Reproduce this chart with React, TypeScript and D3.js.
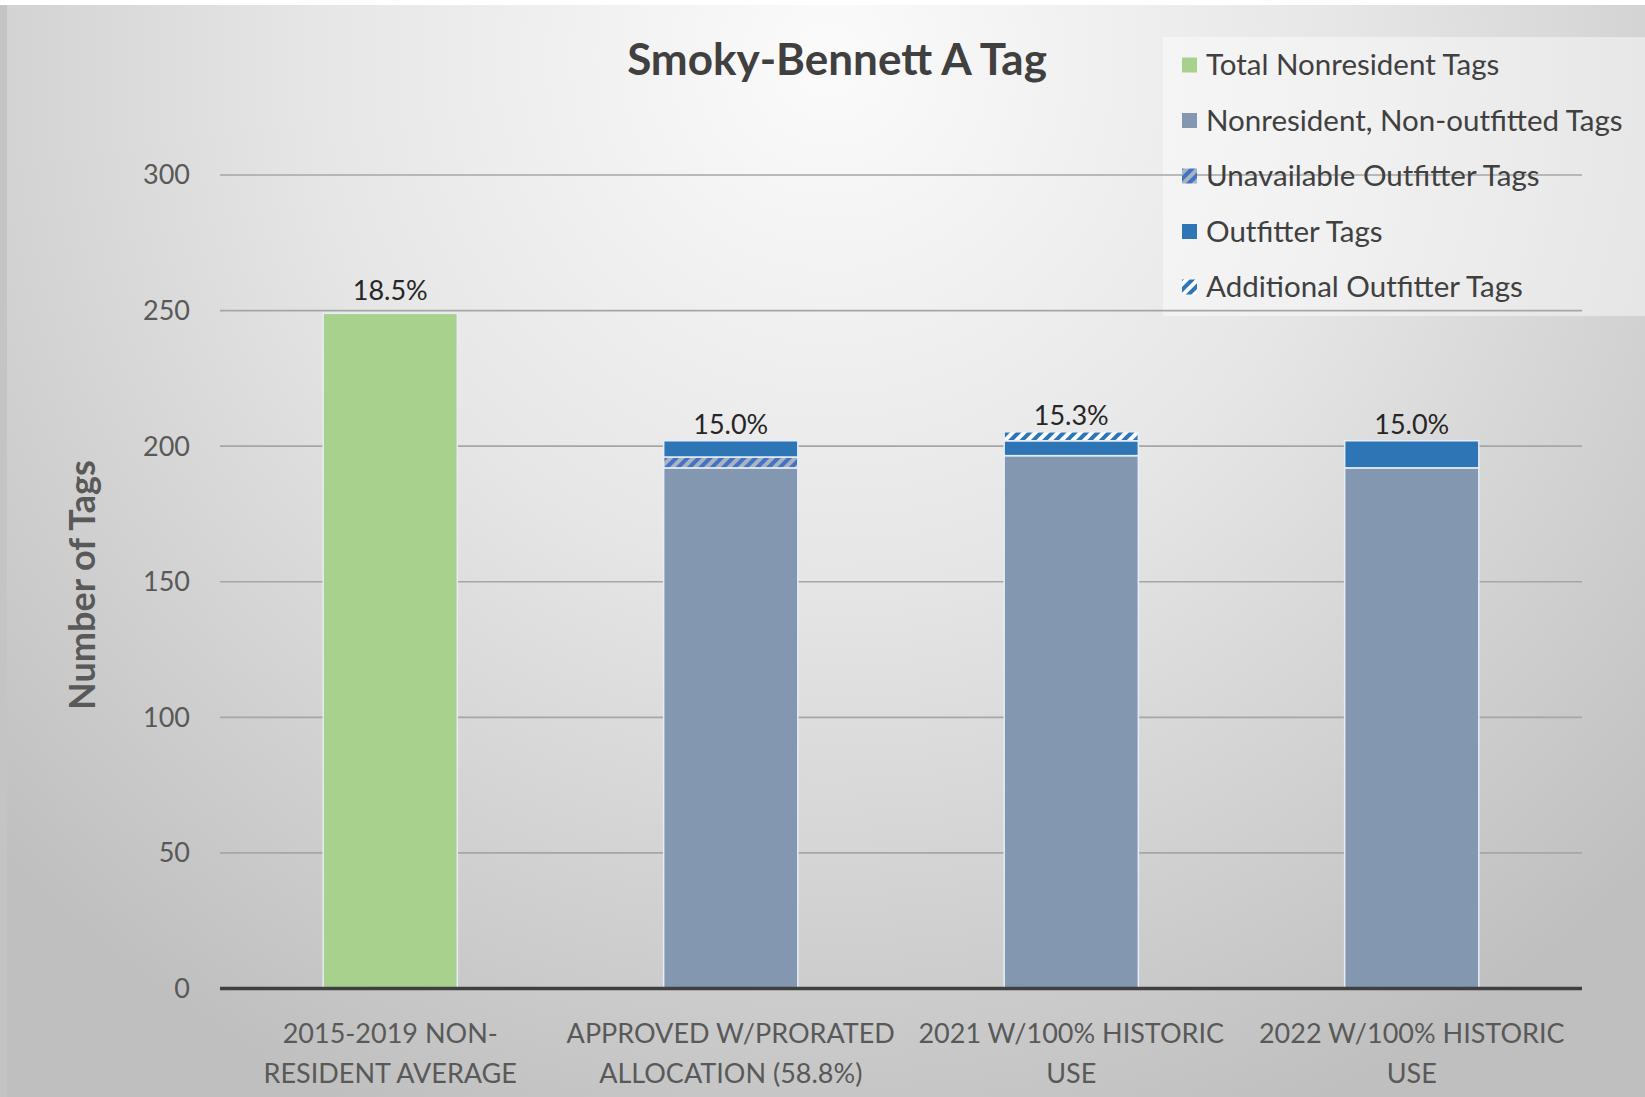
import React from "react";
import * as d3 from "d3";

const categoryLines: string[][] = [
  ["2015-2019 NON-", "RESIDENT AVERAGE"],
  ["APPROVED W/PRORATED", "ALLOCATION (58.8%)"],
  ["2021 W/100% HISTORIC", "USE"],
  ["2022 W/100% HISTORIC", "USE"],
];
const categories = ["c0", "c1", "c2", "c3"];
const totalNonresident = [249, 0, 0, 0];
const nonOutfitted = [0, 192, 196.5, 192];
const unavailable = [0, 4, 0, 0];
const outfitter = [0, 6, 5.5, 10];
const additional = [0, 0, 3.3, 0];
const pctLabels = ["18.5%", "15.0%", "15.3%", "15.0%"];
const yTicks = [0, 50, 100, 150, 200, 250, 300];
const seriesKeys = ["total", "nonOut", "unavail", "outfitter", "additional"];
const seriesNames = [
  "Total Nonresident Tags",
  "Nonresident, Non-outfitted Tags",
  "Unavailable Outfitter Tags",
  "Outfitter Tags",
  "Additional Outfitter Tags",
];

const W = 1645;
const H = 1097;
const FONT = "Lato, 'Open Sans', sans-serif";

const fills: Record<string, string> = {
  total: "#a9d18e",
  nonOut: "#8497b0",
  unavail: "url(#patUnavail)",
  outfitter: "#2e75b6",
  additional: "url(#patAdd)",
};

export default function App() {
  const x = d3.scaleBand<string>().domain(categories).range([220, 1582]).paddingInner(0.606).paddingOuter(0.303);
  const y = d3.scaleLinear().domain([0, 300]).range([988.5, 175]);

  const rows = categories.map((c, i) => ({
    cat: c,
    total: totalNonresident[i],
    nonOut: nonOutfitted[i],
    unavail: unavailable[i],
    outfitter: outfitter[i],
    additional: additional[i],
  }));
  const stack = d3.stack<any>().keys(seriesKeys);
  const layers = stack(rows);

  const tops = rows.map((_, i) => d3.max(layers, (l) => l[i][1]) as number);

  return (
    <div style={{ position: "absolute", left: 0, top: 0 }}>
      <svg width={W} height={H} style={{ display: "block" }}>
        <defs>
          <radialGradient id="bg" gradientUnits="userSpaceOnUse" cx={830} cy={60} r={1150}>
            <stop offset="0" stopColor="#fbfbfb" />
            <stop offset="0.45" stopColor="#e6e6e6" />
            <stop offset="1" stopColor="#bfbfbf" />
          </radialGradient>
          <pattern id="patUnavail" patternUnits="userSpaceOnUse" width={8} height={8} patternTransform="rotate(45)">
            <rect width={8} height={8} fill="#aab3c0" />
            <rect width={4} height={8} fill="#4472c4" />
          </pattern>
          <pattern id="patAdd" patternUnits="userSpaceOnUse" width={8} height={8} patternTransform="rotate(45)">
            <rect width={8} height={8} fill="#ffffff" />
            <rect width={4} height={8} fill="#2e75b6" />
          </pattern>
        </defs>
        <rect x={0} y={0} width={W} height={H} fill="#ffffff" />
        <rect x={0} y={5} width={8} height={H - 5} fill="#c4c4c4" />
        <rect x={7} y={5} width={W - 7} height={H - 5} fill="url(#bg)" />

        {/* legend background */}
        <rect x={1163} y={37} width={W - 1163} height={279} fill="#ffffff" opacity={0.45} />

        {/* gridlines */}
        {yTicks.filter((t) => t > 0).map((t) => (
          <line key={t} x1={220} x2={1582} y1={y(t)} y2={y(t)} stroke="#a6a6a6" strokeWidth={1.6} />
        ))}

        {/* tick labels */}
        {yTicks.map((t) => (
          <text key={t} x={190} y={y(t)} dy="0.35em" textAnchor="end" fontFamily={FONT} fontSize={27} fill="#595959">
            {t}
          </text>
        ))}

        {/* bars */}
        {layers.map((layer) => (
          <g key={layer.key}>
            {layer.map((d, i) =>
              d[1] - d[0] > 0 ? (
                <rect
                  key={i}
                  x={x(categories[i])}
                  width={x.bandwidth()}
                  y={y(d[1])}
                  height={y(d[0]) - y(d[1])}
                  fill={fills[layer.key as string]}
                  stroke="#e6edf7"
                  strokeWidth={1.5}
                />
              ) : null
            )}
          </g>
        ))}

        {/* axis line */}
        <line x1={220} x2={1582} y1={y(0)} y2={y(0)} stroke="#404040" strokeWidth={3.5} />

        {/* bar labels */}
        {pctLabels.map((p, i) => (
          <text
            key={i}
            x={(x(categories[i]) as number) + x.bandwidth() / 2}
            y={y(tops[i]) - (i === 0 ? 13 : 7)}
            textAnchor="middle"
            fontFamily={FONT}
            fontSize={27}
            fill="#262626"
          >
            {p}
          </text>
        ))}

        {/* category labels */}
        {categoryLines.map((lines, i) => (
          <text
            key={i}
            x={(x(categories[i]) as number) + x.bandwidth() / 2}
            textAnchor="middle"
            fontFamily={FONT}
            fontSize={27}
            fill="#595959"
          >
            {lines.map((l, j) => (
              <tspan key={j} x={(x(categories[i]) as number) + x.bandwidth() / 2} y={1043 + j * 40}>
                {l}
              </tspan>
            ))}
          </text>
        ))}

        {/* title */}
        <text x={837} y={75} textAnchor="middle" fontFamily={FONT} fontWeight="bold" fontSize={44} fill="#404040">
          Smoky-Bennett A Tag
        </text>

        {/* y axis title */}
        <text
          transform="translate(95,585) rotate(-90)"
          textAnchor="middle"
          fontFamily={FONT}
          fontWeight="bold"
          fontSize={36}
          fill="#595959"
        >
          Number of Tags
        </text>

        {/* legend */}
        {seriesKeys.map((k, i) => (
          <g key={k} transform={`translate(1182,${65 + i * 55.5})`}>
            <rect x={0} y={-7.5} width={15} height={15} fill={fills[k]} />
            <text x={24} y={0} dy="0.35em" fontFamily={FONT} fontSize={29.5} fill="#404040">
              {seriesNames[i]}
            </text>
          </g>
        ))}
      </svg>
    </div>
  );
}
